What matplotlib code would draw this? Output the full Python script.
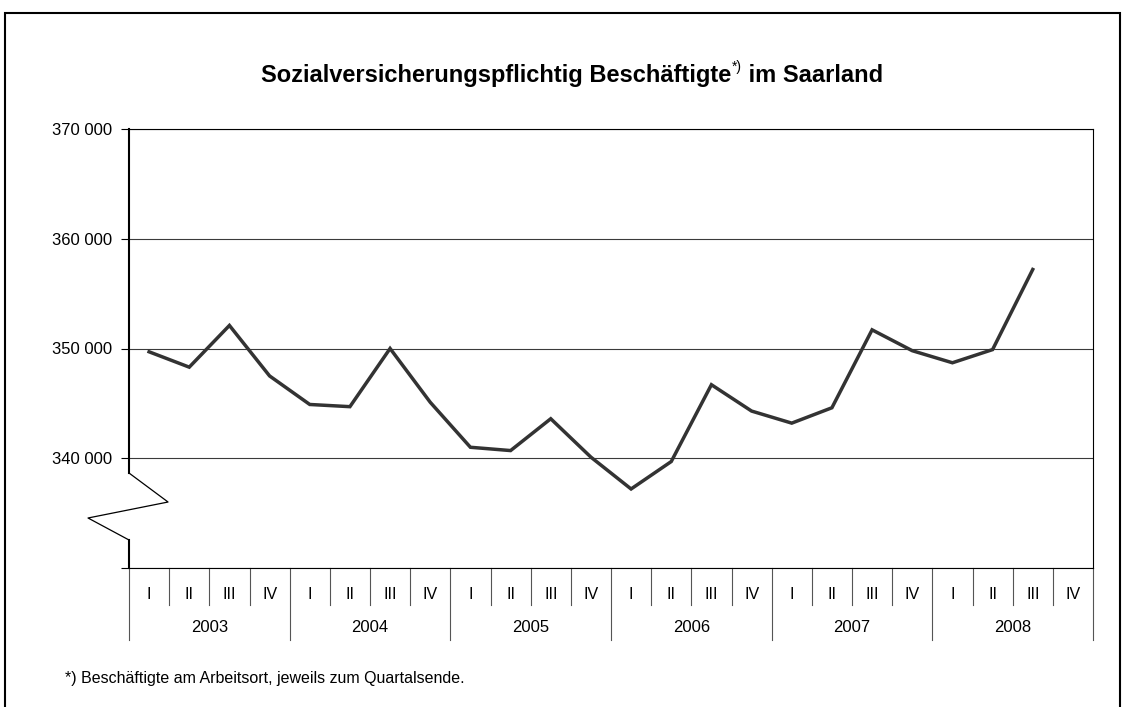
import matplotlib
matplotlib.use("Agg")
import matplotlib.pyplot as plt
from matplotlib.transforms import blended_transform_factory
from matplotlib.ticker import FuncFormatter
from matplotlib.patches import Rectangle

plt.rcParams["font.family"] = ["Liberation Sans", "DejaVu Sans"]

# data: employees subject to social insurance, Saarland, end of quarter
years = ["2003", "2004", "2005", "2006", "2007", "2008"]
quarters = ["I", "II", "III", "IV"]
employees = [
    349700, 348300, 352100, 347500,
    344900, 344700, 350000, 345100,
    341000, 340700, 343600, 340100,
    337200, 339700, 346700, 344300,
    343200, 344600, 351700, 349800,
    348700, 349900, 357200,
]
y_ticks = [330000, 340000, 350000, 360000, 370000]

W, H = 1124, 707
fig = plt.figure(figsize=(W / 100, H / 100), dpi=100, facecolor="white")

# outer frame
fig.patches.append(Rectangle((5 / W, -0.05), 1115 / W, 1.05 - 13 / H, transform=fig.transFigure,
                             fill=False, edgecolor="black", linewidth=1.5))

ax = fig.add_axes([129 / W, 1 - 568 / H, 964 / W, 439 / H])
n_slots = len(years) * len(quarters)
xs = list(range(len(employees)))
ax.plot(xs, employees, color="#333333", linewidth=2.5, solid_joinstyle="miter", zorder=3)

ax.set_xlim(-0.5, n_slots - 0.5)
ax.set_ylim(y_ticks[0], y_ticks[-1])
ax.set_yticks(y_ticks)
ax.yaxis.set_major_formatter(FuncFormatter(
    lambda v, p: "" if v == y_ticks[0] else f"{int(v):,}".replace(",", " ")))
ax.tick_params(axis="y", direction="out", length=6, width=0.8, labelsize=12, pad=6, colors="black")
ax.set_xticks([])
ax.grid(axis="y", color="#3a3a3a", linewidth=0.8)
ax.set_axisbelow(True)

ax.spines["left"].set_visible(False)
for side in ("top", "right", "bottom"):
    ax.spines[side].set_color("black")
    ax.spines[side].set_linewidth(0.8)

# left axis with break mark
ax.plot([0, 0], [1, 0.2164], transform=ax.transAxes, color="black", lw=1.5, clip_on=False)
ax.plot([0, 0], [0.0638, 0], transform=ax.transAxes, color="black", lw=1.5, clip_on=False)
ax.plot([0, 0.0405, -0.0425, 0], [0.2164, 0.1503, 0.1139, 0.0638],
        transform=ax.transAxes, color="black", lw=0.9, clip_on=False)

# two-level category axis
trans = blended_transform_factory(ax.transData, ax.transAxes)
for k in range(n_slots + 1):
    low = -0.164 if k % 4 == 0 else -0.0843
    ax.plot([k - 0.5, k - 0.5], [0, low], transform=trans, color="#555555", lw=0.8, clip_on=False)
for k in range(n_slots):
    ax.text(k, -0.061, quarters[k % 4], transform=trans, ha="center", va="center", fontsize=11.5)
for i, yr in enumerate(years):
    ax.text(i * 4 + 1.5, -0.135, yr, transform=trans, ha="center", va="center", fontsize=12)

# title with superscript footnote mark
fig.canvas.draw()
renderer = fig.canvas.get_renderer()
base_y = 1 - 82 / H
t1 = fig.text(0, base_y, "Sozialversicherungspflichtig Beschäftigte", fontsize=17,
              fontweight="bold", ha="left", va="baseline")
t2 = fig.text(0, base_y + 11 / H, "*)", fontsize=10, ha="left", va="baseline")
t3 = fig.text(0, base_y, " im Saarland", fontsize=17, fontweight="bold", ha="left", va="baseline")
widths = [t.get_window_extent(renderer).width for t in (t1, t2, t3)]
x = 572 - sum(widths) / 2
for t, w in zip((t1, t2, t3), widths):
    t.set_x(x / W)
    x += w

fig.text(65 / W, 1 - 678 / H, "*) Beschäftigte am Arbeitsort, jeweils zum Quartalsende.",
         fontsize=11.5, ha="left", va="center")

fig.savefig("out.png", dpi=100, facecolor="white")
